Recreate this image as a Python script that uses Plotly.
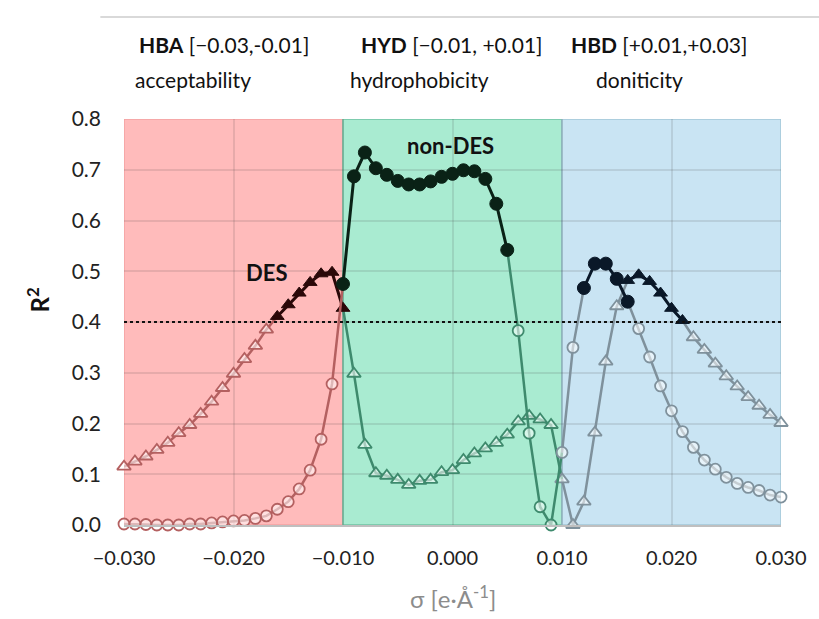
import plotly.graph_objects as go

# ---------------- data ----------------
sigma = [i / 1000 for i in range(-30, 31)]

r2_circles = [
    0.002, 0.002, 0.001, 0.000, 0.000, 0.000, 0.002, 0.002, 0.004, 0.006,
    0.008, 0.009, 0.013, 0.018, 0.031, 0.046, 0.071, 0.108, 0.169, 0.278,
    0.475, 0.687, 0.734, 0.703, 0.690, 0.678, 0.671, 0.671, 0.677, 0.686,
    0.692, 0.699, 0.697, 0.682, 0.633, 0.542, 0.383, 0.181, 0.036, 0.000,
    0.143, 0.350, 0.467, 0.515, 0.515, 0.485, 0.440, 0.387, 0.331, 0.274,
    0.225, 0.184, 0.153, 0.128, 0.110, 0.094, 0.082, 0.074, 0.068, 0.059,
    0.055,
]

r2_triangles = [
    0.115, 0.125, 0.135, 0.148, 0.162, 0.181, 0.197, 0.219, 0.243, 0.270,
    0.298, 0.327, 0.353, 0.385, 0.411, 0.434, 0.457, 0.478, 0.495, 0.498,
    0.427, 0.298, 0.158, 0.102, 0.097, 0.089, 0.079, 0.087, 0.089, 0.104,
    0.108, 0.128, 0.141, 0.151, 0.162, 0.178, 0.204, 0.215, 0.208, 0.197,
    0.090, 0.000, 0.046, 0.182, 0.322, 0.431, 0.482, 0.493, 0.480, 0.457,
    0.427, 0.403, 0.370, 0.345, 0.318, 0.293, 0.273, 0.252, 0.235, 0.217,
    0.201,
]

# highlighted (filled, black) sigma ranges per series
circle_highlight = [(-0.010, 0.005), (0.012, 0.016)]
triangle_highlight = [(-0.016, -0.010), (0.016, 0.021)]

regions = ["HBA", "HYD", "HBD"]
region_bounds = [(-0.030, -0.010), (-0.010, 0.010), (0.010, 0.030)]
region_titles = ["<b>HBA</b> [\u22120.03,-0.01]", "<b>HYD</b> [\u22120.01, +0.01]", "<b>HBD</b> [+0.01,+0.03]"]
region_subtitles = ["acceptability", "hydrophobicity", "doniticity"]

threshold = 0.4
x_tickvals = [-0.03, -0.02, -0.01, 0.0, 0.01, 0.02, 0.03]
x_ticktext = ["\u22120.030", "\u22120.020", "\u22120.010", "0.000", "0.010", "0.020", "0.030"]
y_tickvals = [0.0, 0.1, 0.2, 0.3, 0.4, 0.5, 0.6, 0.7, 0.8]

# ---------------- styles ----------------
FONT = "Lato, Carlito, Calibri, sans-serif"
region_fill = {"HBA": "#FFBBBB", "HYD": "#A9EBD1", "HBD": "#C9E4F3"}
region_border = {"HBA": "#F3A2A2", "HYD": "#6FC2A2", "HBD": "#A3C6D8"}
region_line = {"HBA": "#B46060", "HYD": "#3E8A6D", "HBD": "#7F919C"}
region_black = {"HBA": "#2A0808", "HYD": "#0A2216", "HBD": "#0A1828"}


def point_region(s):
    if s < -0.0105:
        return "HBA"
    if s < 0.0095:
        return "HYD"
    return "HBD"


def seg_region(s0, s1):
    m = (s0 + s1) / 2
    if m < -0.010:
        return "HBA"
    if m < 0.010:
        return "HYD"
    return "HBD"


def is_hl(s, ranges):
    return any(a - 1e-9 <= s <= b + 1e-9 for a, b in ranges)


fig = go.Figure()


def add_series(values, ranges, symbol, open_size, fill_size):
    n = len(sigma)
    groups = []
    for i in range(n - 1):
        s0, s1 = sigma[i], sigma[i + 1]
        if is_hl(s0, ranges) and is_hl(s1, ranges):
            key = ("black", seg_region(s0, s1))
        else:
            key = ("col", seg_region(s0, s1))
        if groups and groups[-1][0] == key and groups[-1][2] == i:
            groups[-1][2] = i + 1
        else:
            groups.append([key, i, i + 1])
    for key, a, b in groups:
        kind, reg = key
        color = region_black[reg] if kind == "black" else region_line[reg]
        fig.add_trace(go.Scatter(
            x=sigma[a:b + 1], y=values[a:b + 1], mode="lines",
            line=dict(color=color, width=3 if kind == "black" else 2.5),
            hoverinfo="skip", showlegend=False, cliponaxis=False))
    for reg in regions:
        xs_o, ys_o, xs_f, ys_f = [], [], [], []
        for s, v in zip(sigma, values):
            if point_region(s) != reg:
                continue
            if is_hl(s, ranges):
                xs_f.append(s); ys_f.append(v)
            else:
                xs_o.append(s); ys_o.append(v)
        if xs_o:
            fig.add_trace(go.Scatter(
                x=xs_o, y=ys_o, mode="markers",
                marker=dict(symbol=symbol, size=open_size,
                            color="rgba(255,255,255,0.55)",
                            line=dict(color=region_line[reg], width=1.8)),
                showlegend=False, cliponaxis=False))
        if xs_f:
            blk = region_black["HBA" if (reg == "HYD" and symbol == "triangle-up") else reg]
            fig.add_trace(go.Scatter(
                x=xs_f, y=ys_f, mode="markers",
                marker=dict(symbol=symbol, size=fill_size, color=blk,
                            line=dict(color=blk, width=1)),
                showlegend=False, cliponaxis=False))


shapes = []
for reg, (a, b) in zip(regions, region_bounds):
    shapes.append(dict(type="rect", xref="x", yref="y", x0=a, x1=b, y0=0, y1=0.8,
                       fillcolor=region_fill[reg], line=dict(color=region_border[reg], width=1.5),
                       layer="below"))
shapes.append(dict(type="line", xref="x", yref="y", x0=sigma[0], x1=sigma[-1],
                   y0=threshold, y1=threshold, line=dict(color="#111111", width=2.2, dash="dot"),
                   layer="above"))
shapes.append(dict(type="line", xref="paper", yref="paper", x0=-0.036, x1=1.06,
                   y0=1.251, y1=1.251, line=dict(color="#D9D9D9", width=2)))

add_series(r2_triangles, triangle_highlight, "triangle-up", 12, 12)
add_series(r2_circles, circle_highlight, "circle", 11, 13)

annotations = []
title_x_px = [137, 360, 571]
sub_x_px = [133, 349, 596]
for t, s, xt, xs in zip(region_titles, region_subtitles, title_x_px, sub_x_px):
    annotations.append(dict(text=t, xref="paper", yref="paper", x=(xt - 124) / 660, y=(525 - 45) / 406,
                            xanchor="left", yanchor="middle", showarrow=False,
                            font=dict(family=FONT, size=21, color="#111111")))
    annotations.append(dict(text=s, xref="paper", yref="paper", x=(xs - 124) / 660, y=(525 - 80) / 406,
                            xanchor="left", yanchor="middle", showarrow=False,
                            font=dict(family=FONT, size=21, color="#111111")))
annotations.append(dict(text="<b>DES</b>", x=-0.017, y=0.497, xref="x", yref="y", showarrow=False,
                        font=dict(family=FONT, size=22, color="#111111")))
annotations.append(dict(text="<b>non-DES</b>", x=-0.0002, y=0.748, xref="x", yref="y", showarrow=False,
                        font=dict(family=FONT, size=22, color="#111111")))
annotations.append(dict(text="\u03c3 [e\u00b7\u00c5<sup>-1</sup>]", xref="paper", yref="paper",
                        x=0.5, y=(525 - 597) / 406, showarrow=False, yanchor="middle",
                        font=dict(family=FONT, size=24, color="#8C8C8C")))
annotations.append(dict(text="<b>R<sup>2</sup></b>", xref="paper", yref="paper",
                        x=(38 - 124) / 660, y=(525 - 300) / 406, showarrow=False, textangle=-90,
                        xanchor="center", yanchor="middle",
                        font=dict(family=FONT, size=24, color="#111111")))

fig.update_layout(
    width=819, height=619,
    margin=dict(l=124, r=35, t=119, b=94),
    paper_bgcolor="white", plot_bgcolor="white",
    shapes=shapes, annotations=annotations,
    font=dict(family=FONT, size=19, color="#222222"),
    showlegend=False,
)
fig.update_xaxes(range=[-0.030, 0.030], tickvals=x_tickvals, ticktext=x_ticktext,
                 showgrid=True, gridcolor="rgba(60,60,60,0.13)", gridwidth=1.5,
                 showline=True, linecolor="#BFBFBF", linewidth=1.5, zeroline=False,
                 ticks="", ticklabelstandoff=14, tickfont=dict(family=FONT, size=20, color="#222222"))
fig.update_yaxes(range=[0, 0.8], tickvals=y_tickvals, tickformat=".1f",
                 showgrid=True, gridcolor="rgba(60,60,60,0.13)", gridwidth=1.5,
                 showline=False, zeroline=False, ticks="", ticklabelstandoff=22,
                 tickfont=dict(family=FONT, size=21, color="#222222"))

fig.write_html("out.html", config={"displayModeBar": False},
               post_script="document.body.style.margin='0';document.body.style.overflow='hidden';")
